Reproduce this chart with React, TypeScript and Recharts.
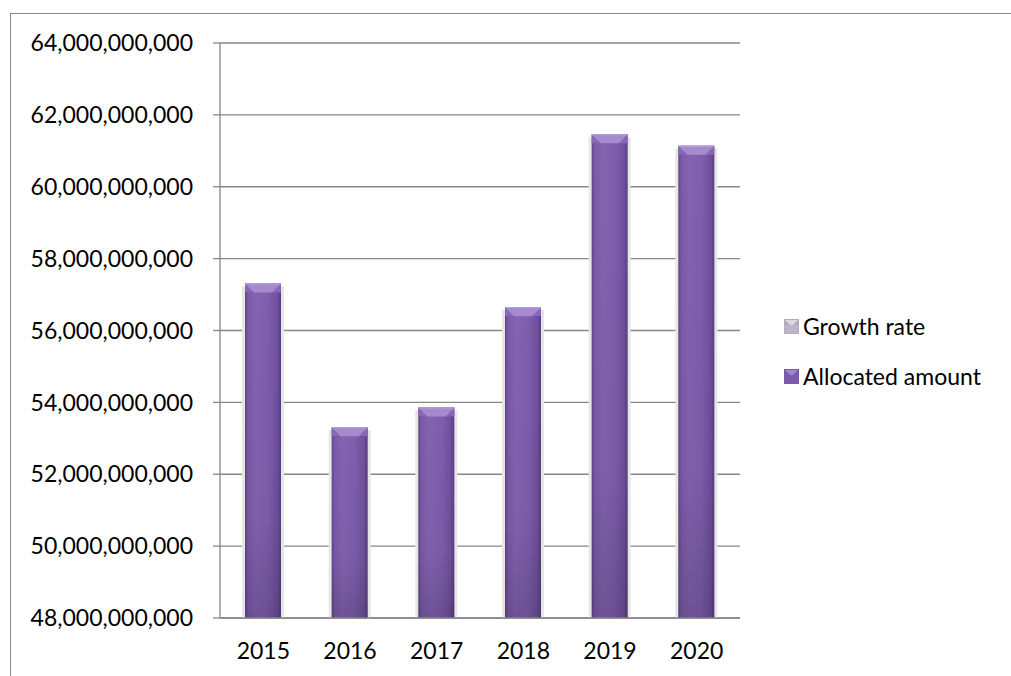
import React from 'react';
import { BarChart, Bar, XAxis, YAxis, CartesianGrid } from 'recharts';

const years = ['2015', '2016', '2017', '2018', '2019', '2020'];
const allocatedAmount = [57310000000, 53310000000, 53860000000, 56650000000, 61460000000, 61140000000];
const yTicks = [48000000000, 50000000000, 52000000000, 54000000000, 56000000000, 58000000000, 60000000000, 62000000000, 64000000000];
const edgeTicks = [0, 1, 2, 3, 4, 5, 6];
const legendNames = ['Growth rate', 'Allocated amount'];

const data = years.map((year, i) => ({ year, amount: allocatedAmount[i] }));

const FONT = 'Lato, "Open Sans", sans-serif';
const GRID = '#878787';

function BevelBar(props: any) {
  const { x, y, width, height } = props;
  if (!height || height <= 0) return null;
  const b = Math.min(9, height / 2);
  return (
    <g>
      <rect x={x - 3} y={y + 3} width={width + 6} height={height - 3} fill="#e6e6e6" />
      <rect x={x} y={y} width={width} height={height} fill="url(#barBody)" />
      <rect x={x} y={y} width={width} height={height} fill="url(#barShade)" />
      <rect x={x} y={y} width={width} height={b} fill="#8767b6" />
      <polygon
        points={`${x},${y} ${x + width},${y} ${x + width - b},${y + b} ${x + b},${y + b}`}
        fill="#a58bce"
      />
      <line x1={x} y1={y + 0.5} x2={x + width} y2={y + 0.5} stroke="#b9a4da" strokeWidth={1} />
    </g>
  );
}

function LegendMarker({ light }: { light: boolean }) {
  const top = light ? '#dcd6e3' : '#a286cc';
  const side = light ? '#b3aabd' : '#7a5aa8';
  const body = light ? '#bdb4c8' : '#7d5cab';
  return (
    <svg width={15} height={15} style={{ display: 'block' }}>
      <rect x={0} y={0} width={15} height={15} fill={body} />
      <rect x={0} y={0} width={15} height={6} fill={side} />
      <polygon points="0,0 15,0 9,6 6,6" fill={top} />
      <rect x={0.5} y={0.5} width={14} height={14} fill="none" stroke={side} strokeWidth={1} />
    </svg>
  );
}

export default function App() {
  return (
    <div style={{ position: 'absolute', left: 0, top: 0, width: 1011, height: 676, background: '#fff' }}>
      <div
        style={{
          position: 'absolute',
          left: 10,
          top: 13,
          width: 1001,
          height: 663,
          borderTop: `1.5px solid ${GRID}`,
          borderLeft: `1.5px solid ${GRID}`,
          boxSizing: 'border-box',
        }}
      />
      <div style={{ position: 'absolute', left: 0, top: 0 }}>
        <BarChart
          width={1011}
          height={676}
          data={data}
          margin={{ top: 43, right: 271, bottom: 0, left: 0 }}
          barSize={36}
        >
          <defs>
            <linearGradient id="barBody" x1="0" y1="0" x2="1" y2="0">
              <stop offset="0%" stopColor="#5d4387" />
              <stop offset="8%" stopColor="#7a5aa8" />
              <stop offset="30%" stopColor="#8463b1" />
              <stop offset="65%" stopColor="#7e5ead" />
              <stop offset="90%" stopColor="#6f509c" />
              <stop offset="100%" stopColor="#573e80" />
            </linearGradient>
            <linearGradient id="barShade" x1="0" y1="0" x2="0" y2="1">
              <stop offset="0%" stopColor="#000" stopOpacity={0} />
              <stop offset="70%" stopColor="#000" stopOpacity={0.04} />
              <stop offset="100%" stopColor="#000" stopOpacity={0.16} />
            </linearGradient>
          </defs>
          <CartesianGrid vertical={false} stroke={GRID} strokeWidth={1.3} />
          <XAxis
            xAxisId="year"
            dataKey="year"
            height={57}
            axisLine={false}
            tickLine={false}
            tickSize={0}
            tickMargin={24}
            tick={{ fill: '#000', fontSize: 23, fontFamily: FONT }}
          />
          <XAxis
            xAxisId={0}
            type="number"
            domain={[0, 6]}
            ticks={edgeTicks}
            tick={false}
            height={1}
            tickSize={7}
            axisLine={{ stroke: GRID, strokeWidth: 1.3 }}
            tickLine={{ stroke: GRID, strokeWidth: 1.3 }}
          />
          <YAxis
            width={220}
            domain={[48000000000, 64000000000]}
            ticks={yTicks}
            tickSize={7}
            tickMargin={20}
            axisLine={{ stroke: GRID, strokeWidth: 1.3 }}
            tickLine={{ stroke: GRID, strokeWidth: 1.3 }}
            tick={{ fill: '#000', fontSize: 23, fontFamily: FONT }}
            tickFormatter={(v: number) => v.toLocaleString('en-US')}
          />
          <Bar
            xAxisId="year"
            dataKey="amount"
            name="Allocated amount"
            shape={<BevelBar />}
            isAnimationActive={false}
          />
        </BarChart>
      </div>
      <div
        style={{
          position: 'absolute',
          left: 784,
          top: 301,
          width: 227,
          fontFamily: FONT,
          fontSize: 23,
          color: '#000',
        }}
      >
        {legendNames.map((name, i) => (
          <div key={name} style={{ display: 'flex', alignItems: 'center', height: 50 }}>
            <LegendMarker light={i === 0} />
            <span style={{ marginLeft: 4, lineHeight: '24px' }}>{name}</span>
          </div>
        ))}
      </div>
    </div>
  );
}
